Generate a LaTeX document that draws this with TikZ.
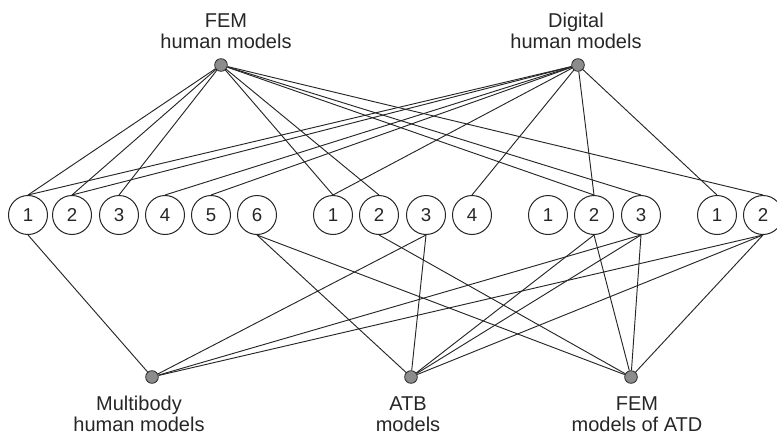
\documentclass[tikz,border=0pt]{standalone}
\usepackage{fontspec}
\setmainfont{Liberation Sans}
\begin{document}
\begin{tikzpicture}[x=0.75pt,y=-0.75pt,
  num/.style={circle,draw=black!85,line width=0.75pt,minimum size=29.25pt,inner sep=0pt,font=\fontsize{14}{16}\selectfont,text=black!85},
  hub/.style={circle,draw=black!85,fill=black!45,line width=0.6pt,minimum size=9.5pt,inner sep=0pt},
  lbl/.style={anchor=base,inner sep=0pt,font=\fontsize{15}{18}\selectfont,text=black!85},
  link/.style={line width=0.7pt,draw=black!85}]
\useasboundingbox (0,0) rectangle (777,435);
% numbered circles
\node[num] (g1a) at (28,215) {1};
\node[num] (g1b) at (72,215) {2};
\node[num] (g1c) at (119,215) {3};
\node[num] (g1d) at (165,215) {4};
\node[num] (g1e) at (211,215) {5};
\node[num] (g1f) at (257,215) {6};
\node[num] (g2a) at (333,215) {1};
\node[num] (g2b) at (379,215) {2};
\node[num] (g2c) at (426,215) {3};
\node[num] (g2d) at (472,215) {4};
\node[num] (g3a) at (548,215) {1};
\node[num] (g3b) at (594,215) {2};
\node[num] (g3c) at (641,215) {3};
\node[num] (g4a) at (717,215) {1};
\node[num] (g4b) at (763,215) {2};
% hubs
\node[hub] (fh) at (221,65) {};
\node[hub] (dh) at (578,65) {};
\node[hub] (mb) at (152,377) {};
\node[hub] (atb) at (411,377) {};
\node[hub] (fa) at (631,377) {};
% labels
\node[lbl] (fhA) at (226,28) {FEM};
\node[lbl] (fhB) at (226,49) {human models};
\node[lbl] (dhA) at (576,28) {Digital};
\node[lbl] (dhB) at (576,49) {human models};
\node[lbl] (mbA) at (139,410) {Multibody};
\node[lbl] (mbB) at (139,431) {human models};
\node[lbl] (atbA) at (408,410) {ATB};
\node[lbl] (atbB) at (408,431) {models};
\node[lbl] (faA) at (637,410) {FEM};
\node[lbl] (faB) at (637,431) {models of ATD};
% connectors from FEM human models
\foreach \t in {g1a,g1b,g1c,g2a,g2b,g3b,g3c,g4b}
  \draw[link] (fh) -- (\t.north);
% connectors from Digital human models
\foreach \t in {g1a,g1b,g1d,g1e,g2a,g2d,g3b,g4a}
  \draw[link] (dh) -- (\t.north);
% connectors to Multibody human models
\foreach \t in {g1a,g2c,g3c,g4b}
  \draw[link] (mb) -- (\t.south);
% connectors to ATB models
\foreach \t in {g1f,g2c,g3b,g3c,g4b}
  \draw[link] (atb) -- (\t.south);
% connectors to FEM models of ATD
\foreach \t in {g1f,g2b,g3b,g3c,g4b}
  \draw[link] (fa) -- (\t.south);
\end{tikzpicture}
\end{document}
